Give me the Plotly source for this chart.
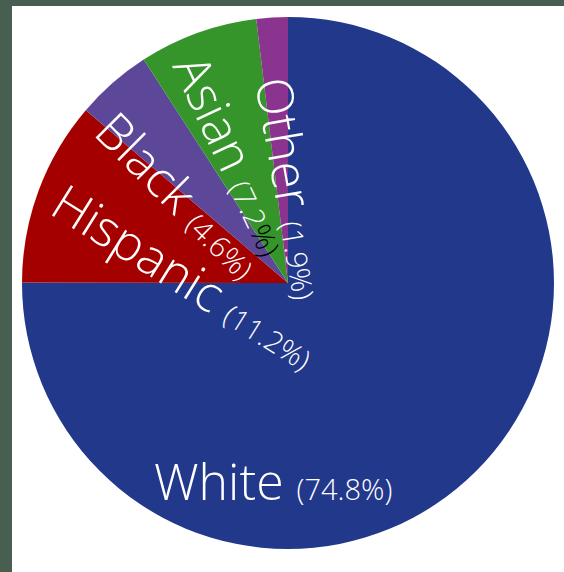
import plotly.graph_objects as go

# Data
groups = ["White", "Hispanic", "Black", "Asian", "Other"]
shares = [74.8, 11.2, 4.6, 7.2, 1.9]
colors = ["#21388b", "#a40000", "#5c4798", "#35952a", "#8a3490"]

W, H = 564, 572
CX, CY, R = 288, 283, 266  # pie centre / radius in px (layout)

fig = go.Figure(go.Pie(
    labels=groups,
    values=shares,
    sort=False,
    direction="clockwise",
    rotation=0,
    textinfo="none",
    hoverinfo="label+percent",
    marker=dict(colors=colors, line=dict(width=0)),
    domain=dict(x=[(CX - R) / W, (CX + R) / W], y=[(H - CY - R) / H, (H - CY + R) / H]),
    showlegend=False,
))

# label layout (pixel centres and rotation), text built from the data
label_style = {
    "White":    dict(px=273, py=481, angle=0),
    "Hispanic": dict(px=185, py=276, angle=32),
    "Black":    dict(px=179, py=194, angle=45),
    "Asian":    dict(px=234, py=154, angle=65),
    "Other":    dict(px=293, py=188, angle=80),
}
FONT = "Open Sans"
for g, v in zip(groups, shares):
    st = label_style[g]
    pct = f"({v}%)"
    if g == "Asian":
        pct = f"({v}<span style='color:black'>%)</span>"
    txt = f"{g} <span style='font-size:29px'>{pct}</span>"
    fig.add_annotation(
        x=st["px"] / W, y=1 - st["py"] / H, xref="paper", yref="paper",
        text=txt, showarrow=False, textangle=st["angle"],
        xanchor="center", yanchor="middle",
        font=dict(family=FONT, size=50, color="white", weight=300),
    )

# dark frame strips (top and left)
frame = "#485e50"
fig.add_shape(type="rect", xref="paper", yref="paper", x0=0, x1=12 / W, y0=0, y1=1,
              fillcolor=frame, line=dict(width=0))
fig.add_shape(type="rect", xref="paper", yref="paper", x0=0, x1=1, y0=1 - 6 / H, y1=1,
              fillcolor=frame, line=dict(width=0))

fig.update_layout(
    width=W, height=H,
    margin=dict(l=0, r=0, t=0, b=0),
    paper_bgcolor="white",
    plot_bgcolor="white",
)

fig.write_html("out.html")
